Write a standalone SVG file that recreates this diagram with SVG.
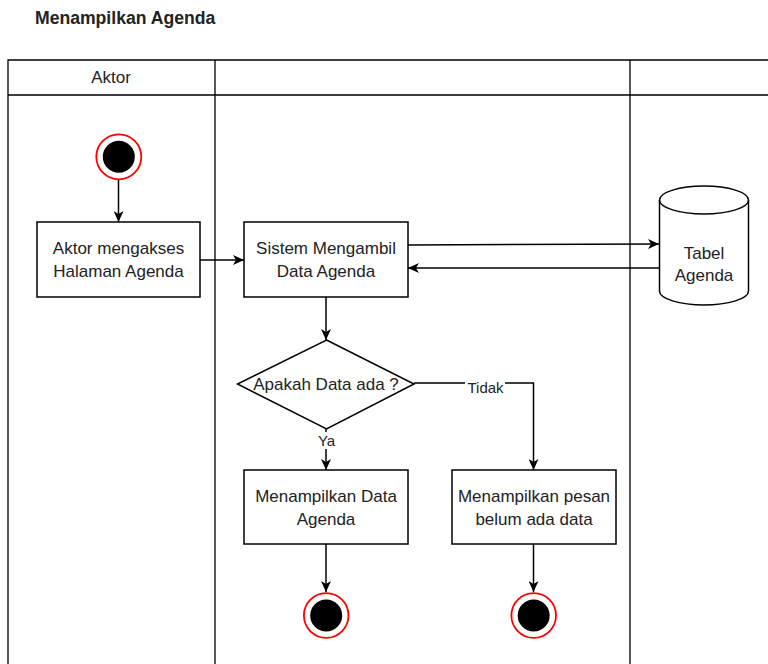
<svg xmlns="http://www.w3.org/2000/svg" width="768" height="664" viewBox="0 0 768 664">
<style>
  .t{font-family:"Liberation Sans",Arial,sans-serif;font-size:17px;fill:#222;text-anchor:middle}
  .lbl{font-family:"Liberation Sans",Arial,sans-serif;font-size:15px;fill:#222;text-anchor:middle}
  .box{fill:#fff;stroke:#000;stroke-width:1.5}
  .lane{fill:none;stroke:#000;stroke-width:1.3}
  .c{fill:none;stroke:#000;stroke-width:1.5}
  .ring{fill:#fff;stroke:#ff0000;stroke-width:1.8}
</style>
<defs>
  <marker id="arr" markerUnits="userSpaceOnUse" markerWidth="12" markerHeight="10" viewBox="0 0 12 10" refX="11" refY="5" orient="auto">
    <path d="M0,0 L11,5 L0,10 L3,5 z" fill="#000"/>
  </marker>
</defs>
<rect width="768" height="664" fill="#fff"/>
<text x="35" y="24" style="font-family:'Liberation Sans',Arial,sans-serif;font-size:17.6px;font-weight:bold;fill:#222">Menampilkan Agenda</text>
<g id="pool">
  <path class="lane" d="M8,664 V60 H768 M8,95 H768 M215,60 V664 M630,60 V664"/>
  <text class="t" x="111" y="83">Aktor</text>
</g>
<g id="connectors">
  <line class="c" x1="118.5" y1="180" x2="118.5" y2="222" marker-end="url(#arr)"/>
  <line class="c" x1="200" y1="260" x2="244" y2="260" marker-end="url(#arr)"/>
  <line class="c" x1="408" y1="245" x2="659" y2="244" marker-end="url(#arr)"/>
  <line class="c" x1="660" y1="268" x2="408" y2="268" marker-end="url(#arr)"/>
  <line class="c" x1="326" y1="297" x2="326" y2="340" marker-end="url(#arr)"/>
  <line class="c" x1="326" y1="429" x2="326" y2="470" marker-end="url(#arr)"/>
  <polyline class="c" points="414,383 533.5,383 533.5,470" marker-end="url(#arr)"/>
  <line class="c" x1="326" y1="544" x2="326" y2="592" marker-end="url(#arr)"/>
  <line class="c" x1="533.5" y1="544" x2="533.5" y2="592" marker-end="url(#arr)"/>
  <rect x="465" y="378" width="40" height="17" fill="#fff"/>
  <text class="lbl" x="485.5" y="392.5">Tidak</text>
  <rect x="315" y="432" width="22" height="17" fill="#fff"/>
  <text class="lbl" x="326.5" y="446">Ya</text>
</g>
<g id="start">
  <circle class="ring" cx="118.8" cy="156.8" r="22.5"/>
  <circle cx="118.8" cy="156.8" r="16" fill="#000"/>
</g>
<g id="aktor-akses">
  <rect class="box" x="37" y="222" width="163" height="75"/>
  <text class="t" x="118.5" y="254">Aktor mengakses</text>
  <text class="t" x="118.5" y="277">Halaman Agenda</text>
</g>
<g id="sistem-ambil">
  <rect class="box" x="244" y="222" width="164" height="75"/>
  <text class="t" x="326" y="254">Sistem Mengambil</text>
  <text class="t" x="326" y="277">Data Agenda</text>
</g>
<g id="tabel-agenda">
  <path class="box" d="M659.5,200 A44.5,14 0 0 1 748.5,200 V291 A44.5,14 0 0 1 659.5,291 Z"/>
  <path class="c" d="M659.5,200 A44.5,14 0 0 0 748.5,200"/>
  <text class="t" x="704" y="259">Tabel</text>
  <text class="t" x="704" y="281">Agenda</text>
</g>
<g id="cek-data">
  <polygon class="box" points="326.5,340 414,384 326.5,429 237.5,384"/>
  <text class="t" x="326" y="390">Apakah Data ada ?</text>
</g>
<g id="tampil-data">
  <rect class="box" x="244" y="470" width="164" height="74"/>
  <text class="t" x="326" y="502">Menampilkan Data</text>
  <text class="t" x="326" y="525">Agenda</text>
</g>
<g id="tampil-pesan">
  <rect class="box" x="452" y="470" width="164" height="74"/>
  <text class="t" x="534" y="502">Menampilkan pesan</text>
  <text class="t" x="534" y="525">belum ada data</text>
</g>
<g id="end1">
  <circle class="ring" cx="326.2" cy="615.5" r="22.3"/>
  <circle cx="326.2" cy="615.5" r="16" fill="#000"/>
</g>
<g id="end2">
  <circle class="ring" cx="533.7" cy="615.5" r="22.3"/>
  <circle cx="533.7" cy="615.5" r="16" fill="#000"/>
</g>
</svg>
